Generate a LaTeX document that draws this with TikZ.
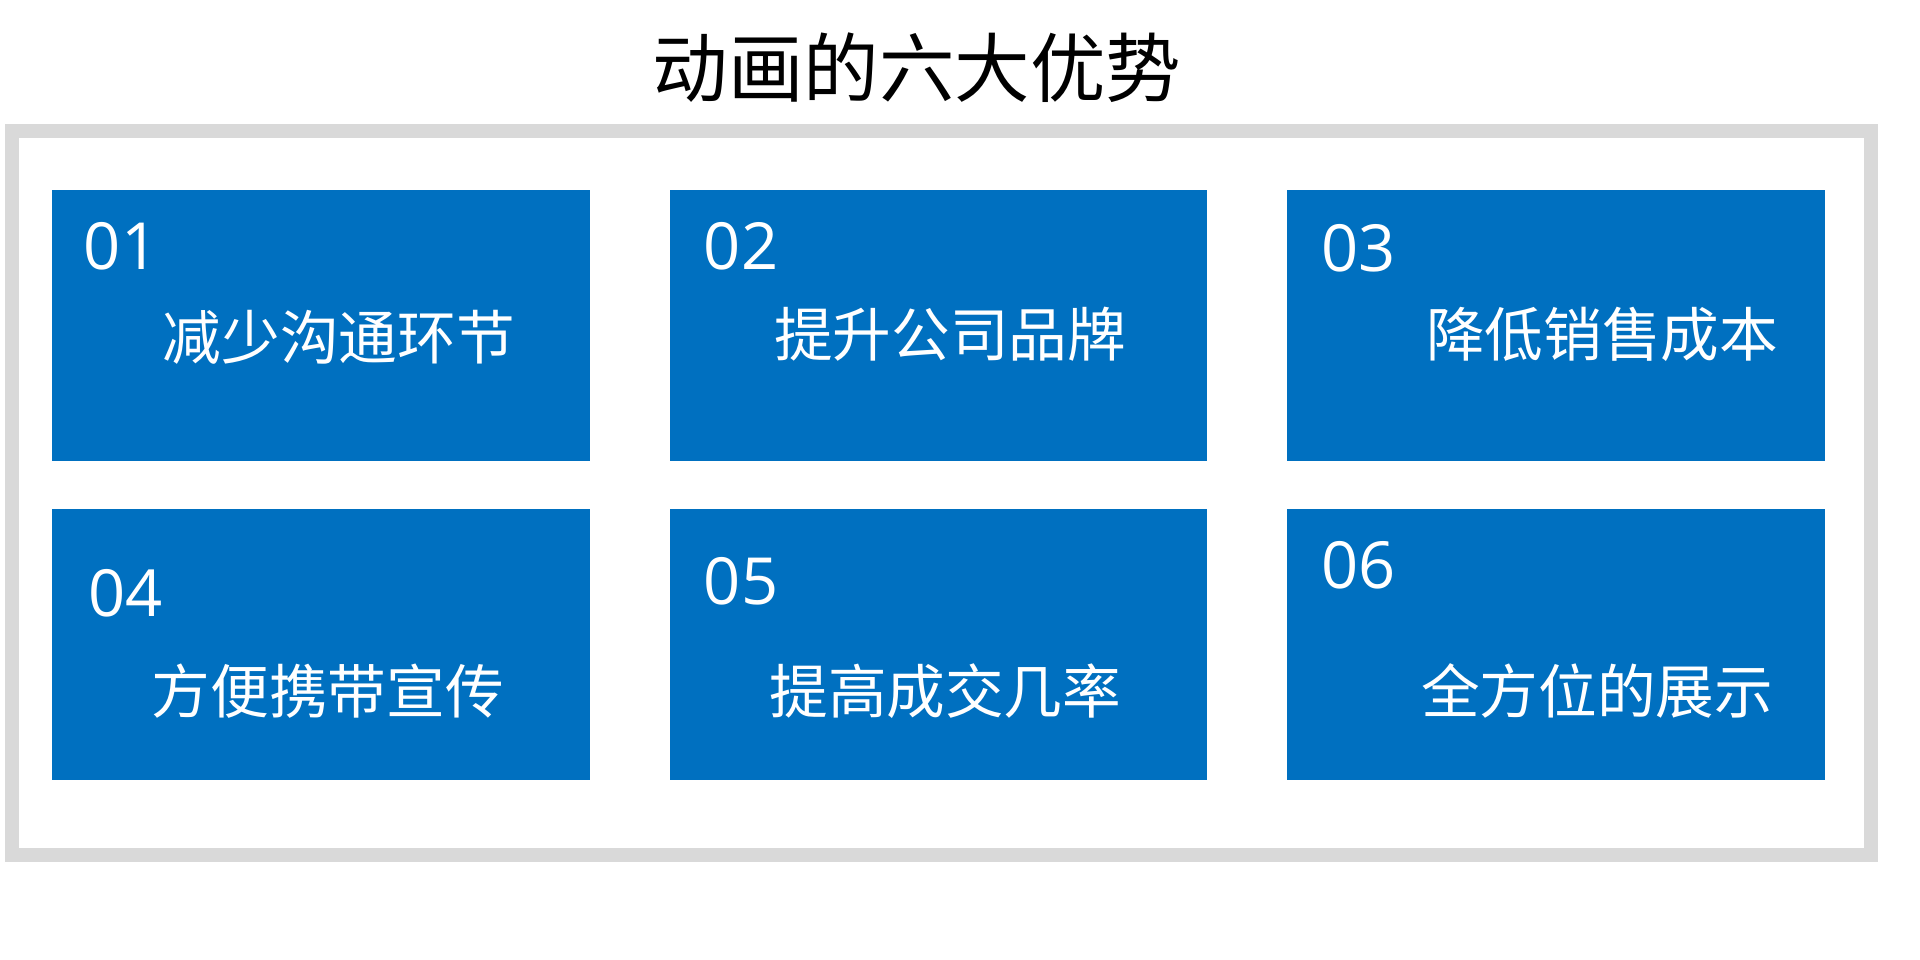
\documentclass[tikz,border=0pt]{standalone}
\usepackage{fontspec}
\setmainfont{Open Sans}
\newfontfamily\cjk{Noto Sans CJK SC}
\usetikzlibrary{positioning}
\definecolor{boxblue}{HTML}{0070C0}
\definecolor{framegray}{HTML}{D9D9D9}
\tikzset{
  card/.style={fill=boxblue,draw=none,minimum width=5.381cm,minimum height=2.715cm,inner sep=0pt},
  num/.style={text=white,font=\fontsize{18.5}{18.5}\selectfont,anchor=west,inner sep=0pt},
  lbl/.style={text=white,font=\cjk\fontsize{16.7}{16.7}\selectfont,inner sep=0pt}
}
\begin{document}
\begin{tikzpicture}[x=0.01223cm,y=-0.01223cm]
\useasboundingbox (0,0) rectangle (1570,785);
\node[font=\cjk\fontsize{21.5}{21.5}\selectfont] (title) at (750,55) {动画的六大优势};
\draw[framegray,line width=4pt] (10,107) rectangle (1530,699);

% top row
\node[card] (c1) at (262.5,266) {};
\node[card,right=0.783cm of c1] (c2) {};
\node[card,right=0.783cm of c2] (c3) {};
\node[num] (n1) at (68,201) {01};
\node[num] (n2) at (575,201) {02};
\node[num] (n3) at (1080,203) {03};
\node[lbl] (l1) at (277,276) {减少沟通环节};
\node[lbl] (l2) at (777,273) {提升公司品牌};
\node[lbl] (l3) at (1310,273) {降低销售成本};

% bottom row
\node[card,below=0.465cm of c1] (c4) {};
\node[card,right=0.783cm of c4] (c5) {};
\node[card,right=0.783cm of c5] (c6) {};
\node[num] (n4) at (72,485) {04};
\node[num] (n5) at (575,475) {05};
\node[num] (n6) at (1080,462) {06};
\node[lbl] (l4) at (268,565) {方便携带宣传};
\node[lbl] (l5) at (773,565) {提高成交几率};
\node[lbl] (l6) at (1306,565) {全方位的展示};
\end{tikzpicture}
\end{document}
